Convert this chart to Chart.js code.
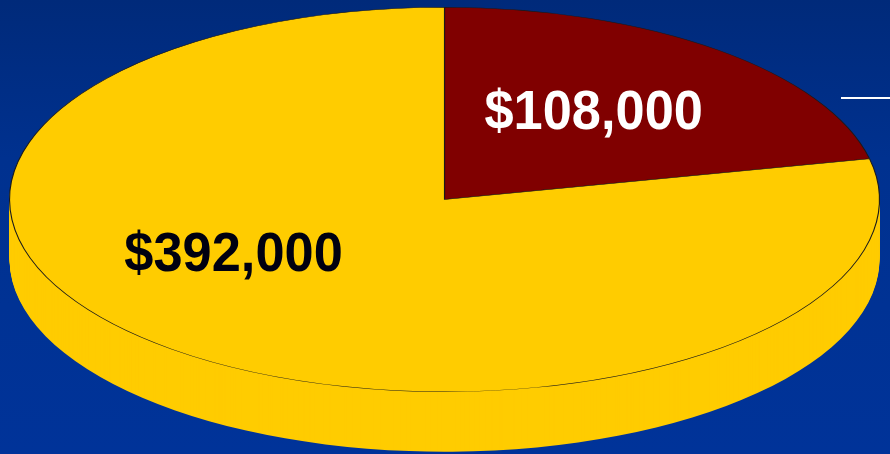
<!DOCTYPE html>
<html>
<head>
<meta charset="utf-8">
<script src="https://cdn.jsdelivr.net/npm/chart.js@4.4.0/dist/chart.umd.min.js"></script>
<style>
  html, body { margin: 0; padding: 0; }
  body {
    width: 890px; height: 454px; overflow: hidden;
    background: linear-gradient(to bottom, #002a7a 0%, #00318f 35%, #003399 100%);
  }
  canvas { display: block; }
</style>
</head>
<body>
<canvas id="chart1" width="890" height="454"></canvas>
<script>
// data
var categories = ['Slice A', 'Slice B'];
var amounts = [108000, 392000];
var sliceColors = ['#800000', '#ffcc00'];
var labelColors = ['#ffffff', '#000010'];

// look of the fake 3d pie
var stretchX = 435.5 / 192.5;
var depth = 60;
// label spots, as (angle in degrees, fraction of radius) in pie space
var labelSpots = [[-53, 0.57], [150, 0.56]];

var pie3d = {
  id: 'pie3d',
  beforeDatasetsDraw(chart) {
    var ctx = chart.ctx;
    var arcs = chart.getDatasetMeta(0).data;
    var cx = arcs[0].x;
    ctx.save();
    ctx.translate(cx, 0);
    ctx.scale(stretchX, 1);
    ctx.translate(-cx, 0);
    // side wall: the slices pushed down, back to front
    for (var d = depth; d >= 1; d--) {
      arcs.forEach(function(a, i) {
        ctx.beginPath();
        ctx.moveTo(a.x, a.y + d);
        ctx.arc(a.x, a.y + d, a.outerRadius, a.startAngle, a.endAngle);
        ctx.closePath();
        ctx.fillStyle = sliceColors[i];
        ctx.fill();
      });
    }
    // leave transform on for the top face
  },
  afterDatasetsDraw(chart) {
    var ctx = chart.ctx;
    ctx.restore();
    var arcs = chart.getDatasetMeta(0).data;
    ctx.save();
    ctx.font = 'bold 56px "Liberation Sans", Arial, sans-serif';
    ctx.textAlign = 'center';
    ctx.textBaseline = 'middle';
    arcs.forEach(function(a, i) {
      var ang = labelSpots[i][0] * Math.PI / 180;
      var r = a.outerRadius * labelSpots[i][1];
      var x = a.x + Math.cos(ang) * r * stretchX;
      var y = a.y + Math.sin(ang) * r;
      ctx.save();
      ctx.translate(x, y + 2);
      ctx.scale(0.935, 1);
      ctx.fillStyle = labelColors[i];
      ctx.fillText('$' + amounts[i].toLocaleString('en-US'), 0, 0);
      ctx.restore();
    });
    // little white rule at right
    ctx.strokeStyle = '#ffffff';
    ctx.lineWidth = 2;
    ctx.beginPath();
    ctx.moveTo(841, 98);
    ctx.lineTo(890, 98);
    ctx.stroke();
    ctx.restore();
  }
};

new Chart('chart1', {
  type: 'pie',
  data: {
    labels: categories,
    datasets: [{
      data: amounts,
      backgroundColor: sliceColors,
      borderColor: '#1a1a1a',
      borderWidth: 0.5,
      clip: false
    }]
  },
  options: {
    responsive: false,
    animation: false,
    layout: { padding: { top: 7, bottom: 62, left: 0, right: 1 } },
    plugins: {
      legend: { display: false },
      tooltip: { enabled: false }
    }
  },
  plugins: [pie3d]
});
</script>
</body>
</html>
